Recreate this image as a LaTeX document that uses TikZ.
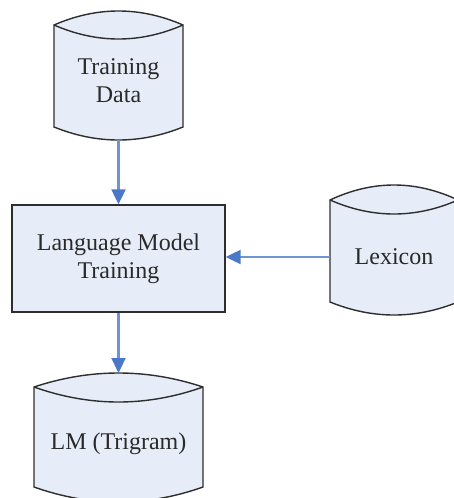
\documentclass[tikz,border=0pt]{standalone}
\usepackage{fontspec}
\setmainfont{Liberation Serif}
\usetikzlibrary{arrows.meta}
\definecolor{shapefill}{HTML}{E7EDF8}
\definecolor{shapeline}{HTML}{2E2E2E}
\definecolor{arrowblue}{HTML}{4A78C8}
\definecolor{shaftblue}{HTML}{6E94D4}
\definecolor{txt}{HTML}{2A2A2A}
% db shape: x1, x2, top apex, side top, lens bottom, side bottom, bottom apex (pixel units, y downwards)
\newcommand\dbshape[7]{%
  \pgfmathsetmacro\xa{#1+(#2-#1)/3}%
  \pgfmathsetmacro\xb{#1+2*(#2-#1)/3}%
  \pgfmathsetmacro\ku{#4-(#4-#3)*4/3}%
  \pgfmathsetmacro\kl{#4+(#5-#4)*4/3}%
  \pgfmathsetmacro\kb{#6+(#7-#6)*4/3}%
  \path[dbfill] (#1,-#4) .. controls (\xa,-\ku) and (\xb,-\ku) .. (#2,-#4)
     -- (#2,-#6) .. controls (\xb,-\kb) and (\xa,-\kb) .. (#1,-#6) -- cycle;
  \draw[dbline] (#1,-#4) .. controls (\xa,-\ku) and (\xb,-\ku) .. (#2,-#4)
     -- (#2,-#6) .. controls (\xb,-\kb) and (\xa,-\kb) .. (#1,-#6) -- cycle;
  \draw[dbline] (#1,-#4) .. controls (\xa,-\kl) and (\xb,-\kl) .. (#2,-#4);
}
\begin{document}
\begin{tikzpicture}[x=1pt,y=1pt,
  dbfill/.style={fill=shapefill},
  dbline/.style={draw=shapeline,line width=1.4pt,line join=miter},
  label/.style={text=txt,align=center,font=\fontsize{24}{28}\selectfont,inner sep=0pt},
  procbox/.style={draw=shapeline,fill=shapefill,line width=1.4pt,minimum width=213pt,minimum height=107pt,
     text=txt,align=center,font=\fontsize{24}{28}\selectfont,inner sep=0pt},
  flow/.style={draw=shaftblue,line width=2.2pt,-{Triangle[length=15pt,width=14pt,color=arrowblue]}}]
\useasboundingbox (0,0) rectangle (454,-498);
\clip (0,0) rectangle (454,-498);
\fill[white] (0,0) rectangle (454,-498);
% cylinders
\dbshape{54}{183}{11}{25}{39}{127}{140}
\dbshape{330}{458}{185}{200}{214}{302}{315}
\dbshape{34}{203}{373}{387}{402}{487}{502}
% nodes
\node[label] (td) at (118.5,-81) {Training\\Data};
\coordinate (tdbot) at (118.5,-140);
\node[procbox] (lmt) at (118.5,-258.5) {Language Model\\Training};
\node[label] (lex) at (394,-257) {Lexicon};
\coordinate (lexleft) at (330,-257);
\node[label] (lm) at (118.5,-444) {LM (Trigram)};
\coordinate (lmtop) at (118.5,-373);
% connectors
\draw[flow] (tdbot) -- (lmt.north);
\draw[flow] (lexleft) -- (lmt.east |- lexleft);
\draw[flow] (lmt.south) -- (lmtop);
\end{tikzpicture}
\end{document}
